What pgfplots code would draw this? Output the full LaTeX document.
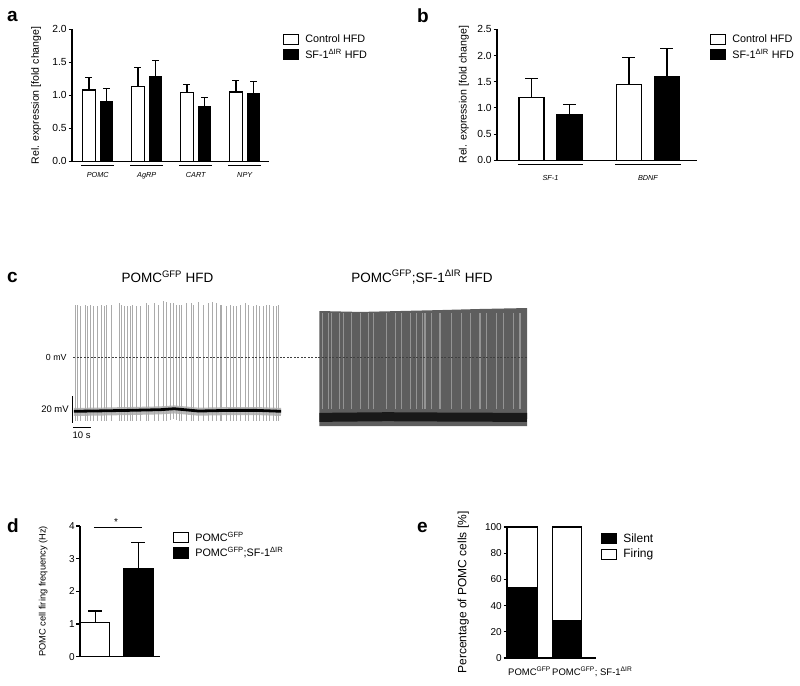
\documentclass[border=0pt]{standalone}
\usepackage{fontspec}
\setmainfont{Liberation Sans}
\usepackage{pgfplots}
\pgfplotsset{compat=1.18}
\definecolor{blockgray}{HTML}{5E5E5E}
\definecolor{stripegray}{HTML}{949494}
\definecolor{spikegray}{HTML}{ABABAB}
\pgfplotsset{
  gp/.style={scale only axis, axis x line*=bottom, axis y line*=left,
    axis line style={line width=1.1pt}, tick align=outside, major tick length=3.5pt,
    ytick style={line width=1.1pt,black}, xtick style={draw=none},
    yticklabel style={inner sep=1.6pt},
    /pgf/number format/assume math mode=true, clip=false,
    legend cell align=left,
    legend style={draw=none, fill=none, inner sep=0pt, row sep=1pt,
      /tikz/every odd column/.append style={column sep=4pt}}},
  boxlegend/.style={legend image code/.code={\draw[##1,line width=1.1pt] (0pt,-5pt) rectangle (15pt,5pt);}},
  wbar/.style={ybar, bar shift=0pt, fill=white, draw=black, line width=1.1pt},
  bbar/.style={ybar, bar shift=0pt, fill=black, draw=black, line width=1.1pt},
  eb/.style={error bars/.cd, y dir=plus, y explicit, error mark=-,
    error bar style={line width=1.1pt,black}, error mark options={rotate=90, line width=1.1pt, mark size=#1, black}},
  eb/.default=3.5pt,
}
\begin{document}
\begin{tikzpicture}
\path[use as bounding box] (0pt,0pt) rectangle (800pt,-685pt);
% panel letters
\node[font=\bfseries\fontsize{19}{22}\selectfont, anchor=base west, inner sep=0pt] at (7pt,-22pt) {a};
\node[font=\bfseries\fontsize{19}{22}\selectfont, anchor=base west, inner sep=0pt] at (417pt,-23pt) {b};
\node[font=\bfseries\fontsize{19}{22}\selectfont, anchor=base west, inner sep=0pt] at (7pt,-282pt) {c};
\node[font=\bfseries\fontsize{19}{22}\selectfont, anchor=base west, inner sep=0pt] at (7pt,-532pt) {d};
\node[font=\bfseries\fontsize{19}{22}\selectfont, anchor=base west, inner sep=0pt] at (417pt,-532pt) {e};

% ---------- panel a ----------
\begin{axis}[gp, boxlegend, at={(72pt,-161.3pt)}, anchor=south west, width=197pt, height=132pt,
  xmin=-0.5255, xmax=3.495, ymin=0, ymax=2,
  ytick={0,0.5,1,1.5,2},
  yticklabel style={/pgf/number format/.cd, fixed, fixed zerofill, precision=1},
  tick label style={font=\fontsize{10.3}{12}\selectfont},
  xtick={0,1,2,3}, xticklabels={POMC,AgRP,CART,NPY},
  xticklabel style={font=\itshape\fontsize{7.3}{8}\selectfont, yshift=-4pt},
  ylabel={Rel. expression [fold change]},
  every axis y label/.style={at={(axis description cs:-0.182,0.5)}, rotate=90, anchor=center, font=\fontsize{10.6}{12}\selectfont},
  legend style={at={(1.071,0.975)}, anchor=north west, font=\fontsize{10.8}{12}\selectfont}]
\addplot[wbar, bar width=0.25, eb] table[x=x, y=y, y error=e] {
x y e
-0.179 1.08 0.19
0.821 1.14 0.28
1.821 1.04 0.13
2.821 1.05 0.18
};
\addlegendentry{Control HFD}
\addplot[bbar, bar width=0.25, eb] table[x=x, y=y, y error=e] {
x y e
0.179 0.91 0.19
1.179 1.28 0.25
2.179 0.83 0.13
3.179 1.02 0.19
};
\addlegendentry{SF-1\textsuperscript{ΔIR} HFD}
\draw[line width=1.5pt] ([yshift=-4pt]axis cs:-0.34,0) -- ([yshift=-4pt]axis cs:0.34,0);
\draw[line width=1.5pt] ([yshift=-4pt]axis cs:0.66,0) -- ([yshift=-4pt]axis cs:1.34,0);
\draw[line width=1.5pt] ([yshift=-4pt]axis cs:1.66,0) -- ([yshift=-4pt]axis cs:2.34,0);
\draw[line width=1.5pt] ([yshift=-4pt]axis cs:2.66,0) -- ([yshift=-4pt]axis cs:3.34,0);
\end{axis}

% ---------- panel b ----------
\begin{axis}[gp, boxlegend, at={(497pt,-160.3pt)}, anchor=south west, width=200pt, height=131pt,
  xmin=-0.549, xmax=1.503, ymin=0, ymax=2.5,
  ytick={0,0.5,1,1.5,2,2.5},
  yticklabel style={/pgf/number format/.cd, fixed, fixed zerofill, precision=1},
  tick label style={font=\fontsize{10.3}{12}\selectfont},
  xtick={0,1}, xticklabels={SF-1,BDNF},
  xticklabel style={font=\itshape\fontsize{7.3}{8}\selectfont, yshift=-8pt},
  ylabel={Rel. expression [fold change]},
  every axis y label/.style={at={(axis description cs:-0.165,0.5)}, rotate=90, anchor=center, font=\fontsize{10.6}{12}\selectfont},
  legend style={at={(1.065,0.975)}, anchor=north west, font=\fontsize{10.8}{12}\selectfont}]
\addplot[wbar, bar width=0.256, eb=6.5pt] table[x=x, y=y, y error=e] {
x y e
-0.195 1.20 0.36
0.805 1.45 0.52
};
\addlegendentry{Control HFD}
\addplot[bbar, bar width=0.256, eb=6.5pt] table[x=x, y=y, y error=e] {
x y e
0.195 0.88 0.18
1.195 1.60 0.53
};
\addlegendentry{SF-1\textsuperscript{ΔIR} HFD}
\draw[line width=1.5pt] ([yshift=-4pt]axis cs:-0.335,0) -- ([yshift=-4pt]axis cs:0.335,0);
\draw[line width=1.5pt] ([yshift=-4pt]axis cs:0.665,0) -- ([yshift=-4pt]axis cs:1.335,0);
\end{axis}

% ---------- panel c ----------
\node[font=\fontsize{13.5}{16}\selectfont] at (167.5pt,-277pt) {POMC\textsuperscript{GFP} HFD};
\node[font=\fontsize{13.5}{16}\selectfont] at (422pt,-277pt) {POMC\textsuperscript{GFP};SF-1\textsuperscript{ΔIR} HFD};
\begin{axis}[scale only axis, at={(73.3pt,-438.3pt)}, anchor=south west, width=453.7pt, height=141.75pt,
  xmin=0, xmax=260.7, ymin=-60, ymax=45, hide axis, clip=false]
% left trace: baseline noise band
\addplot[gray!55, line width=8pt] coordinates {(0.3,-40.5) (15,-40.2) (32,-39.8) (50,-39.3) (58,-38.6) (72,-40.3) (90,-39.8) (105,-39.8) (119.4,-40.5)};
% left trace: spikes (baseline, up to peak, down to trough)
\addplot[draw=none, mark=none, error bars/.cd, y dir=both, y explicit, error mark=none,
  error bar style={spikegray, line width=0.8pt}]
  table[x=t, y=b, y error plus=u, y error minus=d] {
t b u d
1.0 -39.5 78.5 8
2.3 -39.5 78.5 8
3.9 -39.5 77.5 8
6.7 -39.5 78.5 8
8.0 -39.5 77.5 8
9.6 -39.5 78.5 8
11.5 -39.5 77.5 8
13.8 -39.5 77.5 8
16.3 -39.5 78.5 8
17.6 -39.5 77.5 8
19.2 -39.5 78.5 8
22.1 -39.5 78.5 8
26.4 -39.5 79.5 8
27.8 -39.5 78.5 8
29.1 -39.5 77.5 8
31.0 -39.5 77.5 8
32.6 -39.5 77.5 8
34.1 -39.5 78.5 8
36.4 -39.5 77.5 8
38.3 -39.5 77.5 8
42.2 -39.5 79.5 8
43.1 -39.5 78.5 8
46.4 -39.5 79.5 8
48.9 -39.5 78.5 8
51.7 -39.0 81.0 8
53.7 -39.0 80.0 8
55.6 -38.5 78.5 8
57.5 -38.0 78.0 8
59.4 -38.5 77.5 8
60.9 -39.0 78.0 8
62.3 -39.5 78.5 8
64.8 -39.5 79.5 8
68.0 -39.5 79.5 8
69.0 -39.5 78.5 8
71.8 -39.5 80.5 8
74.7 -39.5 78.5 8
77.6 -39.5 79.5 8
80.1 -39.5 80.5 8
82.0 -39.5 79.5 8
84.3 -39.5 78.5 8
85.3 -39.5 78.5 8
87.8 -39.5 77.5 8
90.1 -39.5 78.5 8
92.0 -39.5 77.5 8
93.9 -39.5 77.5 8
95.8 -39.5 78.5 8
98.7 -39.5 79.5 8
100.6 -39.5 78.5 8
103.4 -39.5 77.5 8
105.4 -39.5 78.5 8
106.9 -39.5 77.5 8
109.2 -39.5 77.5 8
111.1 -39.5 78.5 8
112.6 -39.5 78.5 8
114.9 -39.5 77.5 8
116.5 -39.5 77.5 8
117.8 -39.5 78.5 8
};
\addplot[black, line width=2.8pt] coordinates {(0.3,-40) (15,-39.7) (32,-39.3) (50,-38.8) (58,-38.1) (72,-39.8) (90,-39.3) (105,-39.3) (119.4,-40)};
% right trace: dense firing block
\addplot[fill=blockgray, draw=none] coordinates {(141.4,-50.9) (141.4,34.3) (165,33.6) (188,34.3) (211,35.0) (234,35.8) (260.7,36.5) (260.7,-50.9)} -- cycle;
\addplot[draw=none, mark=none, error bars/.cd, y dir=plus, y explicit, error mark=none,
  error bar style={stripegray, line width=1.1pt}]
  table[x=t, y=b, y error=u] {
t b u
143.3 -38 71
146.6 -38 71
148.5 -38 71
152.9 -38 71
155.2 -38 71
160.0 -38 71
164.8 -38 71
169.5 -38 71
172.4 -38 71
180.1 -38 71
184.9 -38 71
188.7 -38 71
193.5 -38 71
197.4 -38 71
200.8 -38 71
202.1 -38 71
206.0 -38 71
210.7 -38 71
217.5 -38 71
223.2 -38 71
228.0 -38 71
233.7 -38 71
237.6 -38 71
243.3 -38 71
247.1 -38 71
252.9 -38 71
256.7 -38 71
};
\addplot[black!90, line width=9pt] coordinates {(141.4,-44.5) (180,-44) (220,-44.3) (260.7,-44.5)};
% 0 mV reference line
\addplot[black!75, line width=0.5pt, dash pattern=on 2pt off 1.5pt] coordinates {(0,0) (260.7,0)};
% scale bars
\draw[line width=0.9pt] (axis cs:-0.6,-28.7) -- (axis cs:-0.6,-48.7);
\draw[line width=0.9pt] (axis cs:0,-52.1) -- (axis cs:10,-52.1);
\node[anchor=east, font=\fontsize{8.8}{11}\selectfont, inner sep=0pt] at (axis cs:-3.8,0) {0 mV};
\node[anchor=east, font=\fontsize{9.5}{11}\selectfont, inner sep=0pt] at (axis cs:-2.5,-38.7) {20 mV};
\node[font=\fontsize{9.5}{11}\selectfont, inner sep=0pt] at (axis cs:4.8,-57.8) {10 s};
\end{axis}

% ---------- panel d ----------
\begin{axis}[gp, boxlegend, at={(80pt,-656.7pt)}, anchor=south west, width=80pt, height=130.7pt,
  xmin=-0.354, xmax=1.498, ymin=0, ymax=4,
  ytick={0,1,2,3,4}, xtick=\empty,
  tick label style={font=\fontsize{10}{12}\selectfont},
  ylabel={POMC cell firing frequency (Hz)},
  every axis y label/.style={at={(axis description cs:-0.459,0.5)}, rotate=90, anchor=center, font=\fontsize{9.3}{11}\selectfont},
  legend style={at={(1.1625,0.972)}, anchor=north west, font=\fontsize{10.8}{12}\selectfont}]
\addplot[wbar, bar width=0.678, eb=7pt] table[x=x, y=y, y error=e] {
x y e
0 1.04 0.36
};
\addlegendentry{POMC\textsuperscript{GFP}}
\addplot[bbar, bar width=0.678, eb=7pt] table[x=x, y=y, y error=e] {
x y e
1 2.70 0.80
};
\addlegendentry{POMC\textsuperscript{GFP};SF-1\textsuperscript{ΔIR}}
\draw[line width=1pt] (axis cs:-0.03,3.94) -- (axis cs:1.08,3.94);
\node[font=\fontsize{10}{12}\selectfont] at (axis cs:0.48,4.12) {*};
\end{axis}

% ---------- panel e ----------
\begin{axis}[gp, at={(507pt,-658pt)}, anchor=south west, width=89pt, height=131pt,
  xmin=-0.348, xmax=1.652, ymin=0, ymax=100,
  ytick={0,20,40,60,80,100},
  xtick={-0.326,0.663}, xticklabels={POMC\textsuperscript{GFP},POMC\textsuperscript{GFP}; SF-1\textsuperscript{ΔIR}},
  tick label style={font=\fontsize{10}{12}\selectfont},
  xticklabel style={anchor=north west, inner sep=0pt, yshift=-5.5pt, font=\fontsize{9.5}{11}\selectfont},
  ybar stacked, bar width=0.663, boxlegend,
  ylabel={Percentage of POMC cells [\%]},
  every axis y label/.style={at={(axis description cs:-0.491,0.5)}, rotate=90, anchor=center, font=\fontsize{12}{14}\selectfont},
  legend style={at={(1.056,0.965)}, anchor=north west, font=\fontsize{12}{14}\selectfont}]
\addplot[fill=black, draw=black, line width=1.1pt] table[x=x, y=y] {
x y
0 53.5
1 28.6
};
\addlegendentry{Silent}
\addplot[fill=white, draw=black, line width=1.1pt] table[x=x, y=y] {
x y
0 46.5
1 71.4
};
\addlegendentry{Firing}
\end{axis}
\end{tikzpicture}
\end{document}
